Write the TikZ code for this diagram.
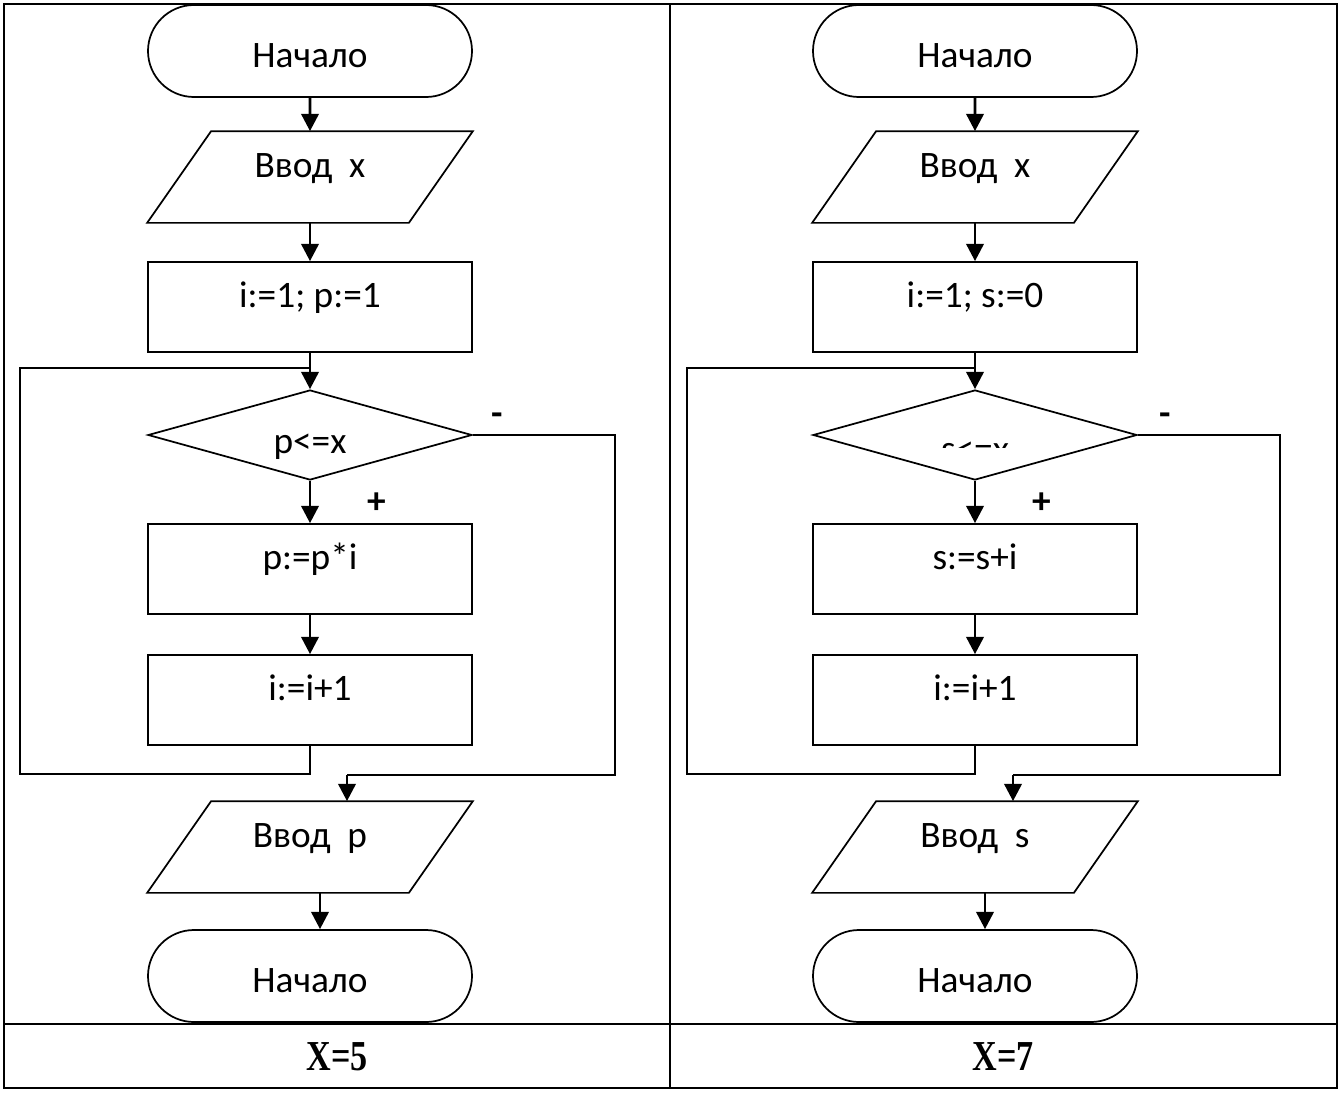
\documentclass[tikz,border=0pt]{standalone}
\usepackage{fontspec}
\setmainfont{Carlito}
\newfontfamily\tnr{Liberation Serif}
\usetikzlibrary{arrows.meta,shapes.geometric,shapes.misc,positioning,calc}

\begin{document}
\begin{tikzpicture}[x=0.75pt,y=-0.75pt,
    base/.style={draw,line width=1.3pt,font=\fontsize{28}{32}\selectfont,inner sep=0pt},
    term/.style={base,rounded rectangle,minimum width=243pt,minimum height=69pt,
                 text height=24pt,text depth=0pt},
    io/.style={base,draw=none,rectangle,minimum width=243pt,minimum height=67.5pt,
               text height=7.5pt,text depth=7pt,
               append after command={\pgfextra{\draw[line width=1.3pt]
                 ($(\tikzlastnode.north west)+(64,0)$) -- (\tikzlastnode.north east)
                 -- ($(\tikzlastnode.south east)-(64,0)$) -- (\tikzlastnode.south west) -- cycle;}}},
    proc/.style={base,rectangle,minimum width=243pt,minimum height=67.5pt,
                 text height=7.5pt,text depth=7pt},
    cond/.style={base,diamond,aspect=3.6,minimum width=243pt,minimum height=67.5pt,
                 text height=27pt,text depth=0pt},
    sgn/.style={font=\fontsize{28}{32}\selectfont\bfseries,inner sep=0pt},
    ans/.style={font=\tnr\bfseries\fontsize{32}{36}\selectfont},
    arr/.style={line width=2.2pt,-{Triangle[length=13pt,width=13pt]}},
    ln/.style={line width=1.5pt}
  ]
  \useasboundingbox (0,0) rectangle (1341,1092);
  % table
  \draw[line width=1.6pt] (4,4) rectangle (1337,1088);
  \draw[line width=1.6pt] (670,4) -- (670,1088);
  \draw[line width=1.6pt] (4,1024) -- (1337,1024);
  \node[ans] (x1) at (337,1057) {\scalebox{0.8}[1]{X=5}};
  \node[ans] (x2) at (1003,1057) {\scalebox{0.8}[1]{X=7}};

  % product
  \node[term] (s1) at (310,51) {Начало};
  \node[io] (in1) at (310,177) {Ввод~~x};
  \node[proc] (ini1) at (310,307) {i:=1; p:=1};
  \node[cond] (c1) at (310,435) {p<=x};
  \node[proc] (b1) at (310,569) {p:=p*i};
  \node[proc] (inc1) at (310,700) {i:=i+1};
  \node[io] (out1) at (310,847) {Ввод~~p};
  \node[term] (e1) at (310,976) {Начало};
  \node[sgn] (pl1) at (377,503) {+};
  \node[sgn] (mi1) at (497,419) {-};
  \coordinate (j1) at (310,368);
  \coordinate (m1) at (347,775);
  \draw[arr] (s1) -- (in1);
  \draw[arr] (in1) -- (ini1);
  \draw[arr] (ini1) -- (c1);
  \draw[arr] (c1) -- (b1);
  \draw[arr] (b1) -- (inc1);
  \draw[ln] (inc1.south) -- ++(0,28) -| (20,368) -- (j1);
  \draw[ln] (c1.east) -| (615,775) -- (m1);
  \draw[arr] (m1) -- (m1 |- out1.north);
  \draw[arr] ([xshift=7.5pt]out1.south) -- ([xshift=7.5pt]e1.north);

  % sum
  \node[term] (s2) at (975,51) {Начало};
  \node[io] (in2) at (975,177) {Ввод~~x};
  \node[proc] (ini2) at (975,307) {i:=1; s:=0};
  \node[cond] (c2) at (975,435) {};
  \begin{scope}
    \clip (813,380) rectangle (1137,447);
    \node[font=\fontsize{28}{32}\selectfont,inner sep=0pt,text height=27pt,text depth=0pt]
      (t2) at (975,443) {s<=x};
  \end{scope}
  \node[proc] (b2) at (975,569) {s:=s+i};
  \node[proc] (inc2) at (975,700) {i:=i+1};
  \node[io] (out2) at (975,847) {Ввод~~s};
  \node[term] (e2) at (975,976) {Начало};
  \node[sgn] (pl2) at (1042,503) {+};
  \node[sgn] (mi2) at (1165,419) {-};
  \coordinate (j2) at (975,368);
  \coordinate (m2) at (1013,775);
  \draw[arr] (s2) -- (in2);
  \draw[arr] (in2) -- (ini2);
  \draw[arr] (ini2) -- (c2);
  \draw[arr] (c2) -- (b2);
  \draw[arr] (b2) -- (inc2);
  \draw[ln] (inc2.south) -- ++(0,28) -| (687,368) -- (j2);
  \draw[ln] (c2.east) -| (1280,775) -- (m2);
  \draw[arr] (m2) -- (m2 |- out2.north);
  \draw[arr] ([xshift=7.5pt]out2.south) -- ([xshift=7.5pt]e2.north);
\end{tikzpicture}
\end{document}
